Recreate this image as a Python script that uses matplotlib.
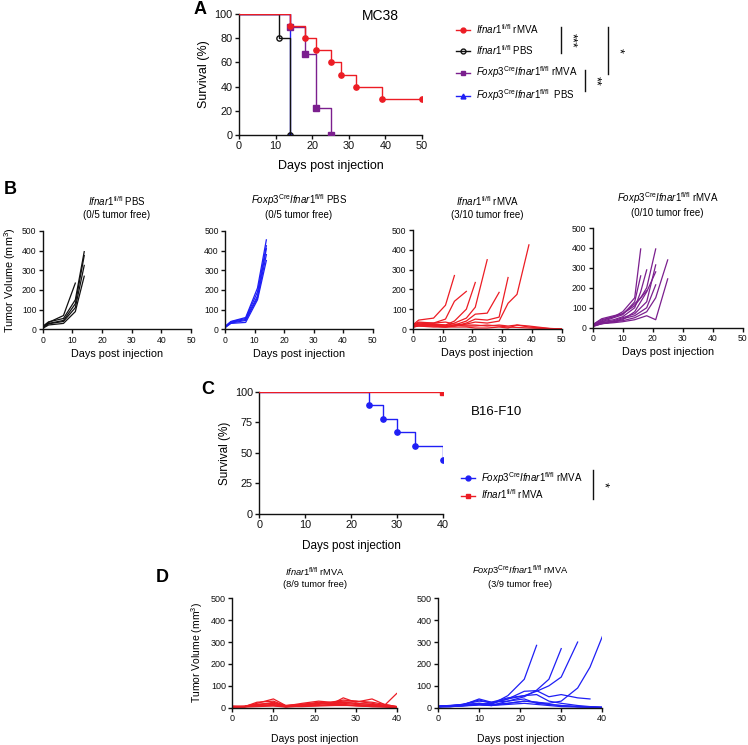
import matplotlib
matplotlib.use("Agg")
import matplotlib.pyplot as plt
from matplotlib.lines import Line2D

plt.rcParams['font.family'] = ['Liberation Sans', 'DejaVu Sans']
plt.rcParams['mathtext.fontset'] = 'custom'
plt.rcParams['mathtext.rm'] = 'Liberation Sans'
plt.rcParams['mathtext.it'] = 'Liberation Sans:italic'
plt.rcParams['mathtext.bf'] = 'Liberation Sans:bold'

RED = '#ec1c24'
PURPLE = '#7b1f8e'
BLUE = '#1f1ff5'
BLACK = '#111111'

IFNAR = r'$\mathit{Ifnar1}^{\mathrm{fl/fl}}$'
FOXP3 = r'$\mathit{Foxp3}^{\mathrm{Cre}}\mathit{Ifnar1}^{\mathrm{fl/fl}}$'

# ---- panel A : MC38 survival
a_red_days = [0, 14, 18, 21, 25, 28, 32, 39, 50]
a_red_surv = [100, 90, 80, 70, 60, 50, 40, 30, 30]
a_black_days = [0, 11, 14]
a_black_surv = [100, 80, 0]
a_purple_days = [0, 14, 18, 21, 25]
a_purple_surv = [100, 88.9, 66.7, 22.2, 0]
a_blue_days = [0, 14]
a_blue_surv = [100, 0]

# ---- panel B : MC38 tumour volumes (one list per mouse)
b1_days = [0, 2, 7, 11, 14]
b1_vol = [
    [10, 35, 70, 235],
    [15, 38, 55, 150, 395],
    [10, 30, 45, 130, 375],
    [8, 28, 40, 110, 325],
    [5, 22, 30, 90, 270],
]
b2_days = [0, 2, 7, 11, 14]
b2_vol = [
    [15, 40, 60, 210, 455],
    [12, 38, 55, 190, 425],
    [10, 35, 50, 170, 410],
    [12, 32, 45, 160, 380],
    [8, 30, 35, 150, 350],
]
b3_days = [0, 2, 7, 11, 14, 18, 21, 25, 29, 32, 35, 39, 43, 46, 50]
b3_vol = [
    [20, 45, 55, 120, 270],
    [15, 30, 30, 50, 140, 190],
    [10, 20, 25, 20, 40, 100, 235],
    [15, 25, 20, 15, 30, 55, 110, 350],
    [10, 15, 15, 10, 20, 40, 75, 80, 185],
    [12, 20, 20, 15, 15, 30, 50, 45, 60, 260],
    [10, 15, 10, 10, 15, 25, 35, 30, 40, 130, 175, 425],
    [25, 30, 25, 20, 20, 15, 15, 20, 15, 10, 8, 5, 3, 1, 0],
    [20, 35, 30, 35, 25, 20, 20, 15, 20, 15, 20, 10, 5, 2, 0],
    [10, 20, 15, 10, 10, 10, 5, 5, 10, 5, 20, 15, 8, 3, 0],
]
b4_days = [0, 3, 7, 10, 14, 16, 18, 21, 25]
b4_vol = [
    [10, 35, 55, 80, 150, 395],
    [15, 40, 55, 70, 110, 150, 200, 395],
    [8, 25, 35, 50, 70, 100, 130, 315],
    [12, 30, 40, 55, 100, 180, 290],
    [5, 20, 30, 45, 60, 80, 100, 215],
    [10, 25, 30, 35, 50, 65, 80, 150, 340],
    [8, 20, 25, 30, 40, 50, 60, 40, 245],
    [15, 45, 60, 70, 120, 150, 185],
    [10, 20, 30, 40, 80, 130, 180, 280],
    [12, 30, 50, 65, 130, 260],
]

# ---- panel C : B16-F10 survival
c_blue_days = [0, 24, 27, 30, 34, 40]
c_blue_surv = [100, 88.9, 77.8, 66.7, 55.6, 44.4]
c_red_days = [0, 40]
c_red_surv = [100, 100]

# ---- panel D : B16-F10 tumour volumes
d_days = [0, 3, 6, 10, 13, 17, 21, 24, 27, 30, 34, 37, 40]
d1_vol = [
    [5, 5, 20, 40, 10, 15, 20, 15, 45, 25, 40, 15, 5],
    [8, 5, 25, 30, 8, 20, 30, 25, 30, 30, 20, 10, 5],
    [5, 8, 15, 20, 5, 15, 25, 20, 25, 20, 15, 10, 3],
    [3, 5, 10, 15, 5, 10, 15, 20, 20, 15, 10, 8, 2],
    [5, 5, 10, 10, 5, 10, 10, 15, 15, 10, 8, 5, 2],
    [3, 3, 5, 8, 3, 8, 10, 10, 10, 10, 5, 3, 0],
    [5, 5, 12, 25, 8, 12, 20, 25, 35, 30, 25, 15, 5],
    [4, 5, 8, 10, 5, 5, 8, 10, 12, 8, 5, 5, 2],
    [5, 5, 15, 20, 10, 15, 20, 20, 25, 20, 15, 10, 65],
]
d2_vol = [
    [8, 10, 15, 20, 15, 55, 130, 285],
    [5, 8, 10, 15, 10, 30, 50, 80, 130, 270],
    [5, 8, 10, 15, 20, 40, 55, 75, 100, 140, 300],
    [5, 5, 8, 12, 10, 20, 30, 25, 20, 30, 90, 185, 325],
    [5, 8, 15, 35, 20, 40, 75, 78, 50, 60, 45, 40],
    [5, 8, 12, 40, 25, 45, 55, 60, 30, 20, 10, 5, 3],
    [8, 10, 15, 30, 25, 30, 40, 20, 15, 10, 5, 3, 2],
    [5, 5, 10, 20, 15, 20, 30, 25, 15, 10, 5, 3, 0],
    [3, 5, 8, 15, 10, 15, 20, 15, 10, 5, 3, 2, 0],
]

W, H = 748, 745
fig = plt.figure(figsize=(W / 100, H / 100), dpi=100)


def add_ax(l, t, r, b):
    return fig.add_axes([l / W, 1 - b / H, (r - l) / W, (b - t) / H])


def prism(ax, tick_fs):
    for s in ['top', 'right']:
        ax.spines[s].set_visible(False)
    for s in ['left', 'bottom']:
        ax.spines[s].set_linewidth(1.0)
        ax.spines[s].set_color(BLACK)
    ax.tick_params(direction='out', length=3, width=1.0, labelsize=tick_fs,
                   colors=BLACK, pad=1.5)


def km(ax, days, surv, color, marker, mfc=None, ms=3.8, z=2):
    ax.step(days, surv, where='post', color=color, lw=1.0, zorder=z)
    ax.plot(days[1:], surv[1:], ls='none', marker=marker, color=color,
            mfc=mfc if mfc else color, ms=ms, mew=1.0, zorder=z + 0.5)


def spaghetti(ax, days, vols, color):
    for v in vols:
        ax.plot(days[:len(v)], v, color=color, lw=0.9)


def star_bar(x, y0, y1, stars):
    fig.add_artist(Line2D([x / W] * 2, [1 - y0 / H, 1 - y1 / H], color=BLACK, lw=1.0))
    fig.text((x + 4) / W, 1 - (y0 + y1) / 2 / H, stars, rotation=270,
             ha='left', va='center', fontsize=9)


# ================= A
axA = add_ax(239, 14, 422, 135)
km(axA, a_blue_days, a_blue_surv, BLUE, '^', z=2)
km(axA, a_black_days, a_black_surv, BLACK, 'o', mfc='none', z=3)
km(axA, a_purple_days, a_purple_surv, PURPLE, 's', z=4)
km(axA, a_red_days, a_red_surv, RED, 'o', z=5)
axA.set_xlim(0, 50)
axA.set_ylim(0, 100)
axA.set_xticks(range(0, 51, 10))
axA.set_yticks(range(0, 101, 20))
prism(axA, 7.8)
axA.set_xlabel('Days post injection', fontsize=9, labelpad=6)
axA.set_ylabel('Survival (%)', fontsize=9, labelpad=3)
axA.text(0.77, 0.985, 'MC38', transform=axA.transAxes, fontsize=10,
         ha='center', va='center')

hA = [
    Line2D([], [], color=RED, marker='o', ms=3.5, lw=1.0),
    Line2D([], [], color=BLACK, marker='o', mfc='none', ms=3.5, lw=1.0),
    Line2D([], [], color=PURPLE, marker='s', ms=3.5, lw=1.0),
    Line2D([], [], color=BLUE, marker='^', ms=3.5, lw=1.0),
]
lA = [IFNAR + ' rMVA', IFNAR + ' PBS', FOXP3 + ' rMVA', FOXP3 + '  PBS']
fig.legend(hA, lA, loc='upper left', bbox_to_anchor=(456 / W, 1 - 22 / H),
           frameon=False, fontsize=7, handlelength=1.4, handletextpad=0.7,
           labelspacing=0.75, borderpad=0, borderaxespad=0)

star_bar(561, 27, 53, '***')
star_bar(585, 70, 91, '**')
star_bar(608, 27, 74, '*')

# ================= B
b_specs = [
    ((42.7, 231, 191, 329.3), b1_days, b1_vol, BLACK, IFNAR + ' PBS', '(0/5 tumor free)'),
    ((225, 231, 372.7, 329.3), b2_days, b2_vol, BLUE, FOXP3 + ' PBS', '(0/5 tumor free)'),
    ((412.7, 230, 561.7, 329), b3_days, b3_vol, RED, IFNAR + ' rMVA', '(3/10 tumor free)'),
    ((592.7, 228, 742.7, 327.7), b4_days, b4_vol, PURPLE, FOXP3 + ' rMVA', '(0/10 tumor free)'),
]
for i, (box, days, vols, col, t1, t2) in enumerate(b_specs):
    ax = add_ax(*box)
    spaghetti(ax, days, vols, col)
    ax.set_xlim(0, 50)
    ax.set_ylim(0, 500)
    ax.set_xticks(range(0, 51, 10))
    ax.set_yticks(range(0, 501, 100))
    prism(ax, 6.2)
    ax.set_xlabel('Days post injection', fontsize=7.8, labelpad=3)
    ax.set_title(t1 + '\n' + t2, fontsize=7, pad=9, linespacing=1.25)
    if i == 0:
        ax.set_ylabel('Tumor Volume (mm$^3$)', fontsize=7.8, labelpad=3)

# ================= C
axC = add_ax(259.3, 391.7, 442.7, 514)
km(axC, c_blue_days, c_blue_surv, BLUE, 'o', z=2)
km(axC, c_red_days, c_red_surv, RED, 's', z=3)
axC.set_xlim(0, 40)
axC.set_ylim(0, 100)
axC.set_xticks(range(0, 41, 10))
axC.set_yticks(range(0, 101, 25))
prism(axC, 7.8)
axC.set_xlabel('Days post injection', fontsize=8.5, labelpad=7)
axC.set_ylabel('Survival (%)', fontsize=8.5, labelpad=3)
fig.text(497 / W, 1 - 412 / H, 'B16-F10', fontsize=9.5, ha='center', va='center')

hC = [
    Line2D([], [], color=BLUE, marker='o', ms=3.5, lw=1.0),
    Line2D([], [], color=RED, marker='s', ms=3.5, lw=1.0),
]
lC = [FOXP3 + ' rMVA', IFNAR + ' rMVA']
fig.legend(hC, lC, loc='upper left', bbox_to_anchor=(461 / W, 1 - 470 / H),
           frameon=False, fontsize=7, handlelength=1.4, handletextpad=0.7,
           labelspacing=0.15, borderpad=0, borderaxespad=0)
star_bar(593, 470, 499, '*')

# ================= D
d_specs = [
    ((232.3, 598.3, 396.7, 707.7), d1_vol, RED, IFNAR + ' rMVA', '(8/9 tumor free)'),
    ((438, 598.3, 602.3, 707.7), d2_vol, BLUE, FOXP3 + ' rMVA', '(3/9 tumor free)'),
]
for i, (box, vols, col, t1, t2) in enumerate(d_specs):
    ax = add_ax(*box)
    spaghetti(ax, d_days, vols, col)
    ax.set_xlim(0, 40)
    ax.set_ylim(0, 500)
    ax.set_xticks(range(0, 41, 10))
    ax.set_yticks(range(0, 501, 100))
    prism(ax, 6.5)
    ax.set_xlabel('Days post injection', fontsize=7.5, labelpad=8)
    ax.set_title(t1 + '\n' + t2, fontsize=6.7, pad=8, linespacing=1.25)
    if i == 0:
        ax.set_ylabel('Tumor Volume (mm$^3$)', fontsize=7.5, labelpad=4)

# panel letters
for ch, x, y in [('A', 200, 10), ('B', 10, 190), ('C', 208, 389), ('D', 162, 578)]:
    fig.text(x / W, 1 - y / H, ch, fontsize=13, fontweight='bold',
             ha='center', va='center')

fig.savefig('out.png', dpi=100)
